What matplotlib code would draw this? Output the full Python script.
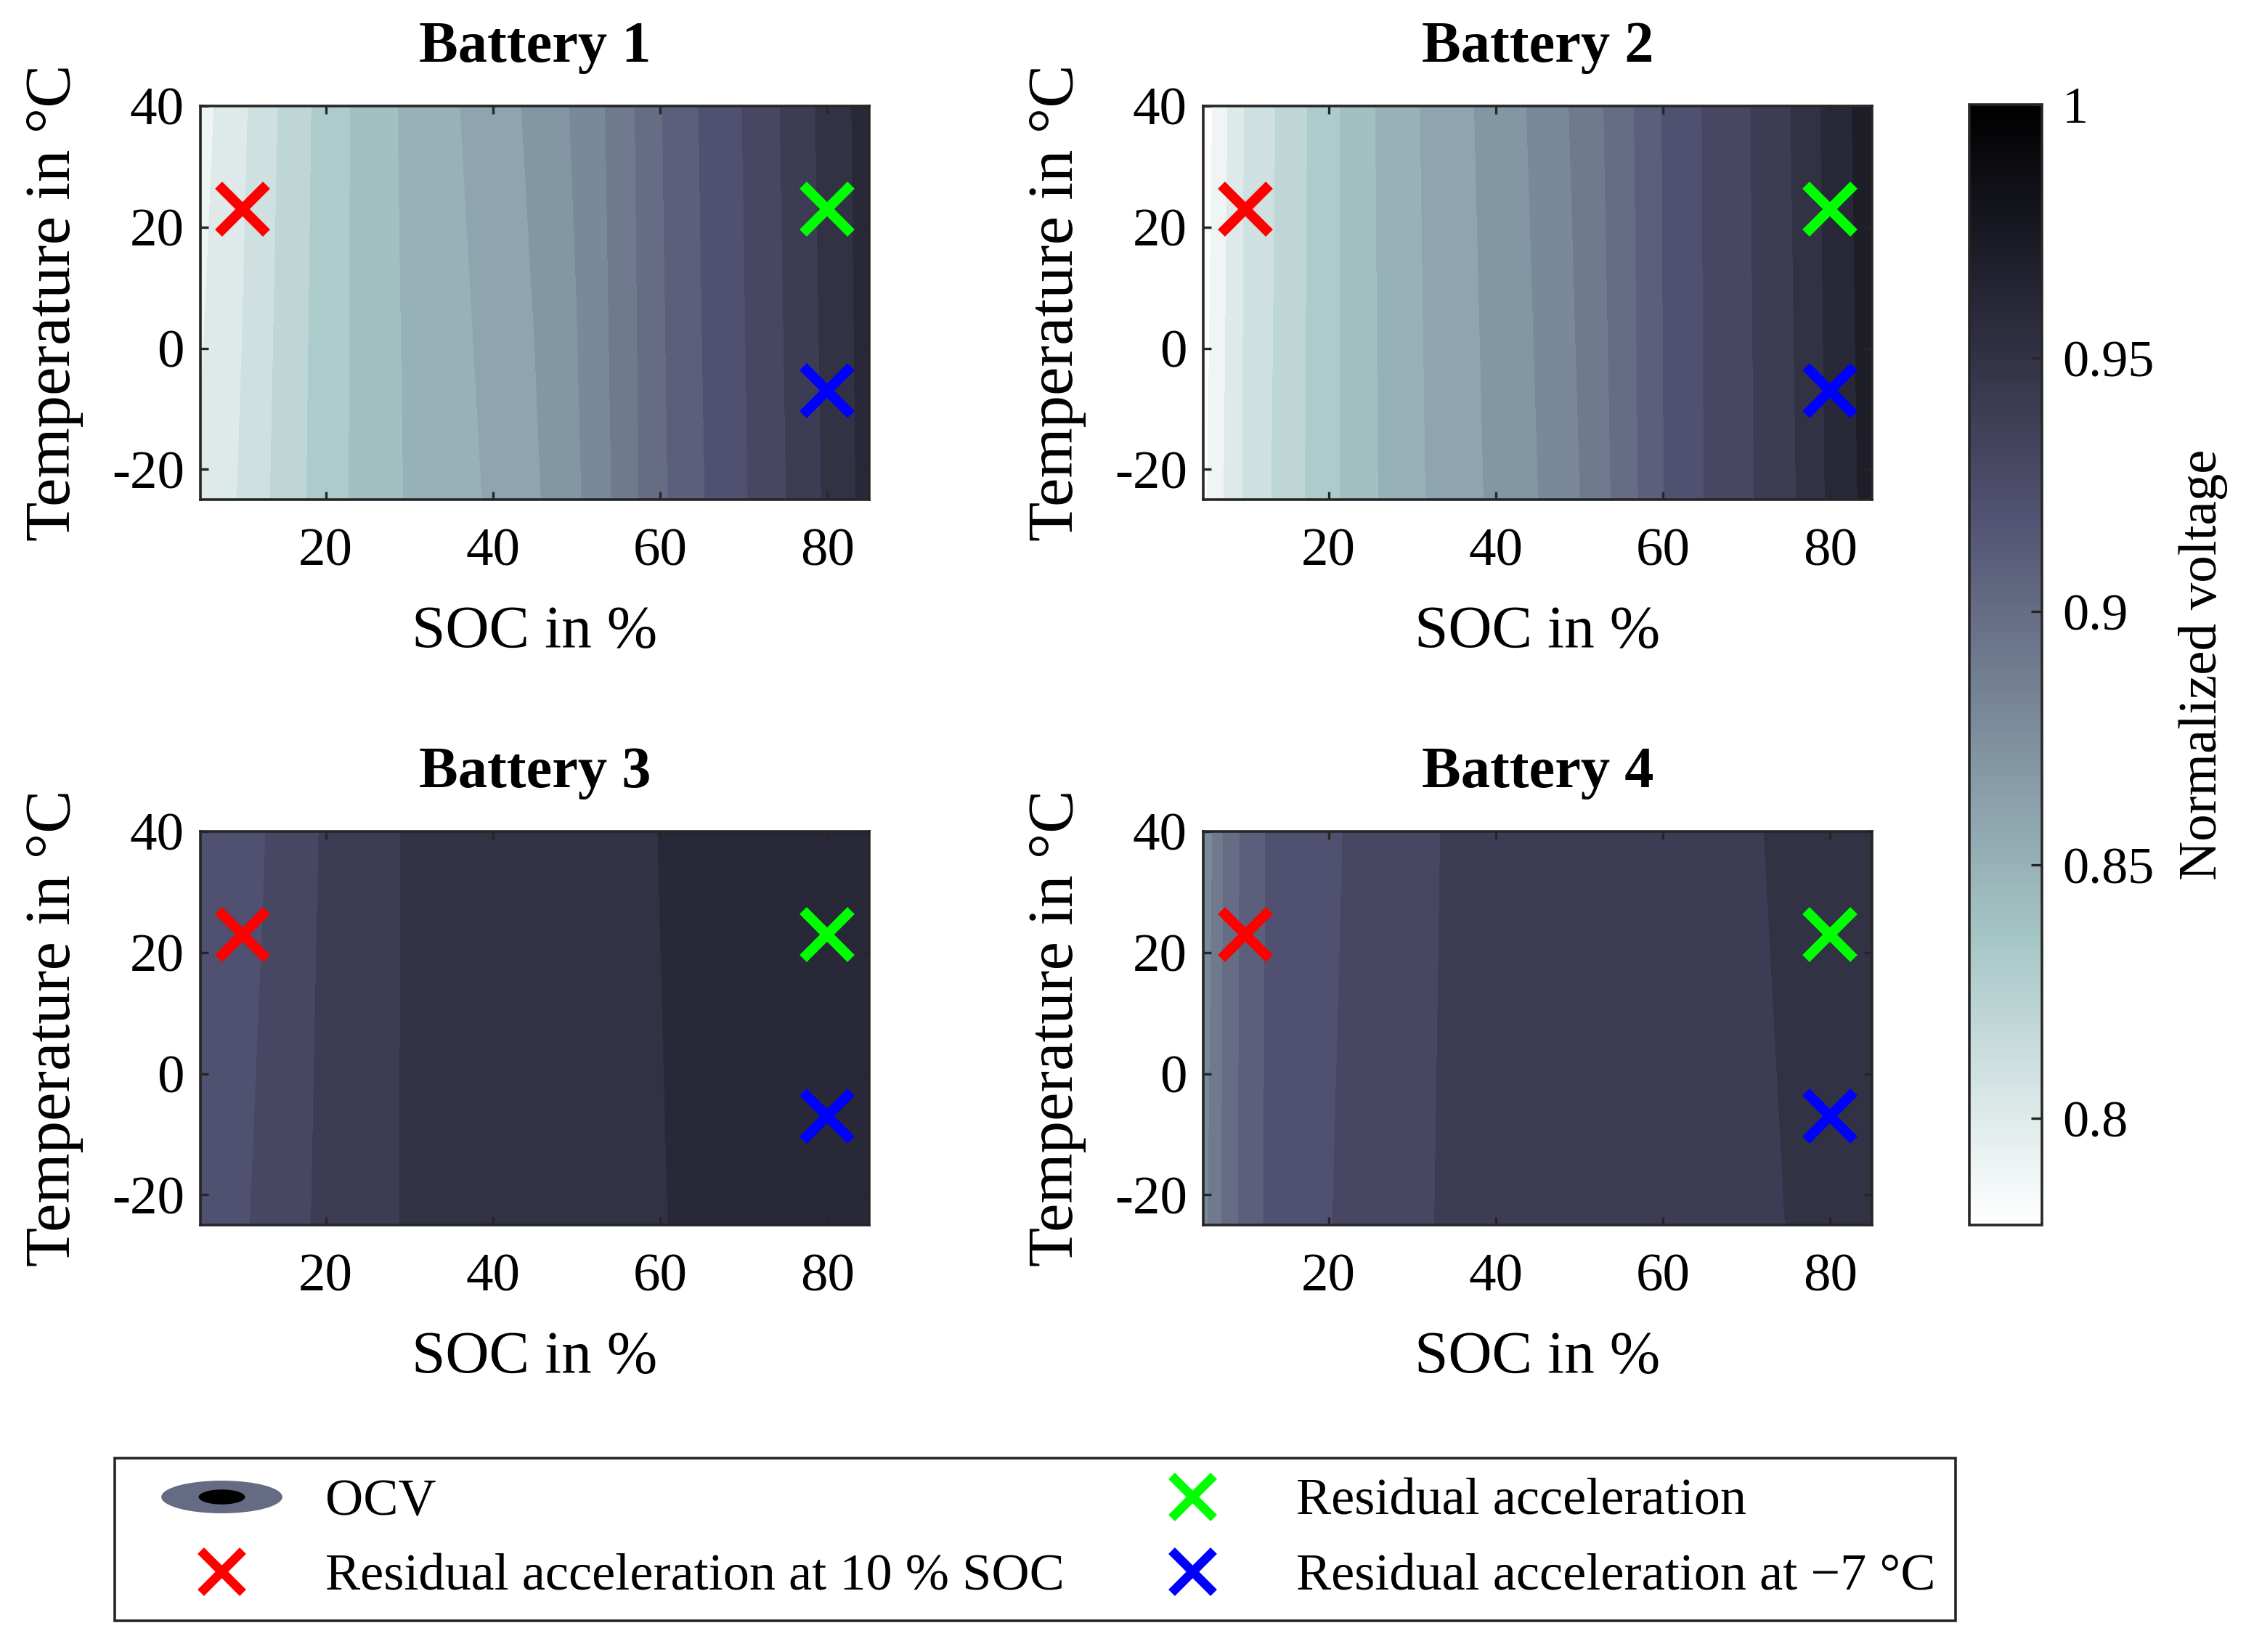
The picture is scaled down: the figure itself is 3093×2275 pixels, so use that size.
import matplotlib
matplotlib.use("Agg")
import matplotlib.pyplot as plt
import numpy as np
from matplotlib.colors import Normalize
from matplotlib.cm import ScalarMappable
from matplotlib.lines import Line2D
from matplotlib.path import Path
from matplotlib.transforms import Affine2D
from matplotlib.legend_handler import HandlerTuple
from matplotlib.ticker import FuncFormatter

plt.rcParams['font.family'] = ['Liberation Serif', 'DejaVu Serif']
plt.rcParams['axes.unicode_minus'] = False

# --- données ---
soc = [5, 7.5, 10, 12.5, 15, 20, 25, 30, 35, 40, 45, 50, 55, 60, 65, 70, 75, 80, 85]
temp = [-25, 40]

# tension normalisée (ligne 0: -25 °C, ligne 1: 40 °C)
ocv_bat1 = [
    [0.801, 0.806, 0.8113, 0.8179, 0.824, 0.8351, 0.8439, 0.851, 0.856, 0.8614,
     0.8685, 0.8783, 0.8923, 0.9079, 0.9193, 0.9289, 0.9398, 0.9517, 0.9639],
    [0.796, 0.8021, 0.8081, 0.815, 0.822, 0.8341, 0.8442, 0.8522, 0.8586, 0.8651,
     0.8723, 0.8816, 0.8938, 0.9094, 0.9209, 0.9304, 0.9415, 0.9534, 0.9648],
]
ocv_bat2 = [
    [0.7875, 0.8001, 0.8114, 0.8183, 0.8246, 0.8368, 0.8482, 0.8576, 0.865, 0.872,
     0.8798, 0.8898, 0.9033, 0.9197, 0.9302, 0.9384, 0.9473, 0.9618, 0.9743],
    [0.7839, 0.7978, 0.8105, 0.8169, 0.8235, 0.8367, 0.8488, 0.8585, 0.8663, 0.8739,
     0.8822, 0.8926, 0.9053, 0.9204, 0.9307, 0.939, 0.9492, 0.9632, 0.9763],
]
ocv_bat3 = [
    [0.922, 0.9255, 0.9288, 0.932, 0.9363, 0.942, 0.948, 0.9506, 0.9521, 0.9536,
     0.9551, 0.9566, 0.9581, 0.9597, 0.9613, 0.963, 0.9645, 0.966, 0.968],
    [0.922, 0.9238, 0.9255, 0.9295, 0.9335, 0.9413, 0.9463, 0.951, 0.952, 0.9536,
     0.9552, 0.9568, 0.9584, 0.9601, 0.9615, 0.963, 0.9645, 0.966, 0.968],
]
ocv_bat4 = [
    [0.8865, 0.9019, 0.914, 0.9208, 0.9237, 0.9295, 0.9348, 0.9392, 0.9407, 0.9419,
     0.9431, 0.9442, 0.9454, 0.9465, 0.9477, 0.9488, 0.9501, 0.9512, 0.9524],
    [0.8815, 0.9007, 0.9131, 0.9201, 0.9228, 0.9284, 0.9331, 0.9375, 0.9412, 0.9424,
     0.9436, 0.9448, 0.9459, 0.9471, 0.9483, 0.9495, 0.9507, 0.9519, 0.9531],
]
ocv_all = [ocv_bat1, ocv_bat2, ocv_bat3, ocv_bat4]
titles = ["Battery 1", "Battery 2", "Battery 3", "Battery 4"]

# points de mesure (SOC, température)
pt_soc = (10, 23)
pt_ref = (80, 23)
pt_cold = (80, -7)

levels = np.round(np.arange(0.78, 1.0001, 0.01), 2)
v_min, v_max = 0.779, 1.0
cb_ticks = [0.8, 0.85, 0.9, 0.95, 1.0]

# --- mise en page (pixels de l'image finale) ---
W, H = 3093, 2275
fig = plt.figure(figsize=(W / 200, H / 200), dpi=200)

cmap = plt.get_cmap('bone_r')
norm = Normalize(v_min, v_max)
# comme MATLAB : chaque bande prend la couleur de son niveau bas
band_colors = [cmap(norm(l)) for l in levels[:-1]]

ax_w, ax_h = 921, 542
corners = [(276, 146), (1657, 146), (276, 1145), (1657, 1145)]
axis_col = '0.15'

for i, (x0, y0) in enumerate(corners):
    ax = fig.add_axes([x0 / W, 1 - (y0 + ax_h) / H, ax_w / W, ax_h / H])
    ax.contourf(soc, temp, np.array(ocv_all[i]), levels=levels, colors=band_colors)
    ax.plot(*pt_soc, 'x', color='red', markersize=24, mew=5)
    ax.plot(*pt_ref, 'x', color='#00ff00', markersize=24, mew=5)
    ax.plot(*pt_cold, 'x', color='blue', markersize=24, mew=5)
    ax.set_xlim(5, 85)
    ax.set_ylim(-25, 40)
    ax.set_xticks([20, 40, 60, 80])
    ax.set_yticks([-20, 0, 20, 40])
    ax.tick_params(direction='in', top=True, right=True, length=4, width=1.2,
                   color=axis_col, labelsize=27)
    ax.tick_params(axis='x', pad=14)
    ax.tick_params(axis='y', pad=8)
    for sp in ax.spines.values():
        sp.set_linewidth(1.3)
        sp.set_color(axis_col)
    ax.set_title(titles[i], fontsize=29, fontweight='bold', pad=22)
    ax.set_xlabel("SOC in %", fontsize=30, labelpad=14)
    ax.set_ylabel("Temperature in °C", fontsize=32, labelpad=14)

# barre de couleur
cax = fig.add_axes([2712 / W, 1 - 1687 / H, 100 / W, 1543 / H])
sm = ScalarMappable(norm=norm, cmap=cmap)
cb = fig.colorbar(sm, cax=cax, ticks=cb_ticks)
cb.ax.yaxis.set_major_formatter(FuncFormatter(lambda v, _: f"{v:g}"))
cb.ax.tick_params(direction='in', length=5.5, width=1.2, color=axis_col,
                  labelsize=26, pad=10)
cb.outline.set_linewidth(1.3)
cb.outline.set_edgecolor(axis_col)
cb.set_label("Normalized voltage", fontsize=27, labelpad=12)

# légende
ellipse = Path.unit_circle().transformed(Affine2D().scale(1, 0.27))
ellipse_in = Path.unit_circle().transformed(Affine2D().scale(1, 0.32))
ocv_outer = Line2D([], [], ls='none', marker=ellipse, markersize=60,
                   color='#646b82', mew=0)
ocv_inner = Line2D([], [], ls='none', marker=ellipse_in, markersize=23,
                   color='black', mew=0)
h_red = Line2D([], [], ls='none', marker='x', color='red', markersize=21, mew=4.5)
h_green = Line2D([], [], ls='none', marker='x', color='#00ff00', markersize=21, mew=4.5)
h_blue = Line2D([], [], ls='none', marker='x', color='blue', markersize=21, mew=4.5)

leg = fig.legend(
    [(ocv_outer, ocv_inner), h_red, h_green, h_blue],
    ["OCV", "Residual acceleration at 10 % SOC",
     "Residual acceleration", "Residual acceleration at \u22127 °C"],
    handler_map={tuple: HandlerTuple(ndivide=1, pad=0)},
    ncol=2, loc='upper left', bbox_to_anchor=(158 / W, 1 - 2008 / H),
    borderaxespad=0, fontsize=26, fancybox=False, framealpha=1,
    edgecolor=axis_col, borderpad=0.38, handlelength=3.3, handletextpad=0.33,
    columnspacing=0.8, labelspacing=0.52,
)
leg.get_frame().set_linewidth(1.3)

fig.savefig("out.png", dpi=200)
